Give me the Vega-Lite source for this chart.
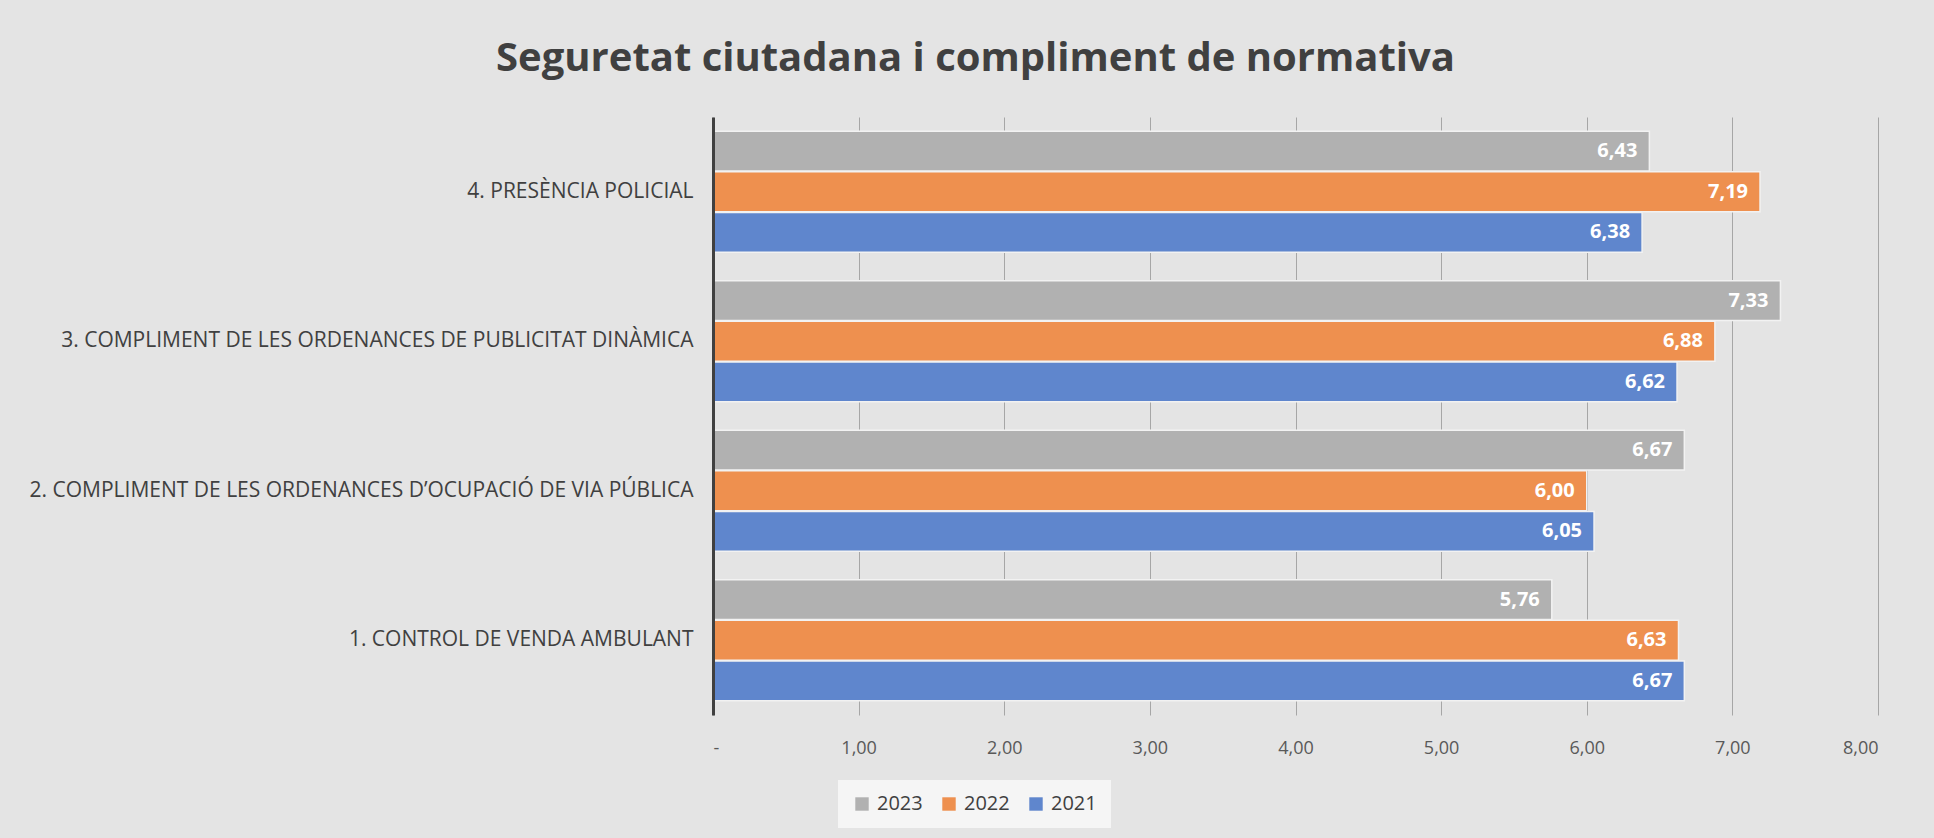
{
  "$schema": "https://vega.github.io/schema/vega-lite/v6.json",
  "autosize": "none",
  "width": 1165,
  "height": 598,
  "padding": {"left": 713, "top": 117, "right": 56, "bottom": 123},
  "background": "#e4e4e4",
  "config": {
    "locale": {"number": {"decimal": ",", "thousands": ".", "grouping": [3], "currency": ["", " €"]}},
    "view": {"stroke": null},
    "font": "Open Sans"
  },
  "title": {
    "text": "Seguretat ciutadana i compliment de normativa",
    "fontSize": 40,
    "fontWeight": "bold",
    "font": "Open Sans",
    "color": "#404040",
    "anchor": "middle",
    "dx": -320,
    "offset": 38
  },
  "data": {
    "values": [
      {"cat": "4. PRESÈNCIA POLICIAL", "year": "2023", "value": 6.43},
      {"cat": "4. PRESÈNCIA POLICIAL", "year": "2022", "value": 7.19},
      {"cat": "4. PRESÈNCIA POLICIAL", "year": "2021", "value": 6.38},
      {"cat": "3. COMPLIMENT DE LES ORDENANCES DE PUBLICITAT DINÀMICA", "year": "2023", "value": 7.33},
      {"cat": "3. COMPLIMENT DE LES ORDENANCES DE PUBLICITAT DINÀMICA", "year": "2022", "value": 6.88},
      {"cat": "3. COMPLIMENT DE LES ORDENANCES DE PUBLICITAT DINÀMICA", "year": "2021", "value": 6.62},
      {"cat": "2. COMPLIMENT DE LES ORDENANCES D’OCUPACIÓ DE VIA PÚBLICA", "year": "2023", "value": 6.67},
      {"cat": "2. COMPLIMENT DE LES ORDENANCES D’OCUPACIÓ DE VIA PÚBLICA", "year": "2022", "value": 6.00},
      {"cat": "2. COMPLIMENT DE LES ORDENANCES D’OCUPACIÓ DE VIA PÚBLICA", "year": "2021", "value": 6.05},
      {"cat": "1. CONTROL DE VENDA AMBULANT", "year": "2023", "value": 5.76},
      {"cat": "1. CONTROL DE VENDA AMBULANT", "year": "2022", "value": 6.63},
      {"cat": "1. CONTROL DE VENDA AMBULANT", "year": "2021", "value": 6.67}
    ]
  },
  "encoding": {
    "y": {
      "field": "cat",
      "type": "nominal",
      "sort": ["4. PRESÈNCIA POLICIAL", "3. COMPLIMENT DE LES ORDENANCES DE PUBLICITAT DINÀMICA", "2. COMPLIMENT DE LES ORDENANCES D’OCUPACIÓ DE VIA PÚBLICA", "1. CONTROL DE VENDA AMBULANT"],
      "scale": {"paddingInner": 0.19, "paddingOuter": 0.095},
      "axis": {
        "title": null,
        "ticks": false,
        "grid": false,
        "domain": true,
        "domainColor": "#404040",
        "domainWidth": 3,
        "labelFontSize": 21,
        "labelColor": "#404040",
        "labelPadding": 20,
        "labelLimit": 900,
        "zindex": 2
      }
    },
    "yOffset": {
      "field": "year",
      "type": "nominal",
      "sort": ["2023", "2022", "2021"],
      "scale": {"paddingInner": 0.02}
    },
    "x": {
      "field": "value",
      "type": "quantitative",
      "scale": {"domain": [0, 8], "nice": false},
      "axis": {
        "title": null,
        "values": [0, 1, 2, 3, 4, 5, 6, 7, 8],
        "format": ".2f",
        "labelExpr": "datum.value === 0 ? '-' : datum.label",
        "domain": false,
        "ticks": false,
        "grid": true,
        "gridColor": "#a6a6a6",
        "gridWidth": 1,
        "labelFontSize": 18,
        "labelColor": "#595959",
        "labelPadding": 24
      }
    }
  },
  "layer": [
    {
      "mark": {"type": "bar", "stroke": "#f2f2f2", "strokeWidth": 1.5},
      "encoding": {
        "color": {
          "field": "year",
          "type": "nominal",
          "scale": {"domain": ["2023", "2022", "2021"], "range": ["#b1b1b1", "#ee904f", "#5f86cd"]},
          "legend": {
            "title": null,
            "orient": "none",
            "direction": "horizontal",
            "legendX": 125,
            "legendY": 663,
            "fillColor": "#f5f5f5",
            "padding": 14,
            "symbolType": "square",
            "symbolSize": 180,
            "symbolStrokeWidth": 0,
            "labelFontSize": 20,
            "labelColor": "#404040",
            "columnPadding": 16,
            "labelOffset": 5
          }
        }
      }
    },
    {
      "mark": {"type": "text", "align": "right", "dx": -12, "color": "white", "fontSize": 20, "fontWeight": "bold", "baseline": "middle"},
      "encoding": {
        "text": {"field": "value", "type": "quantitative", "format": ".2f"}
      }
    }
  ]
}
